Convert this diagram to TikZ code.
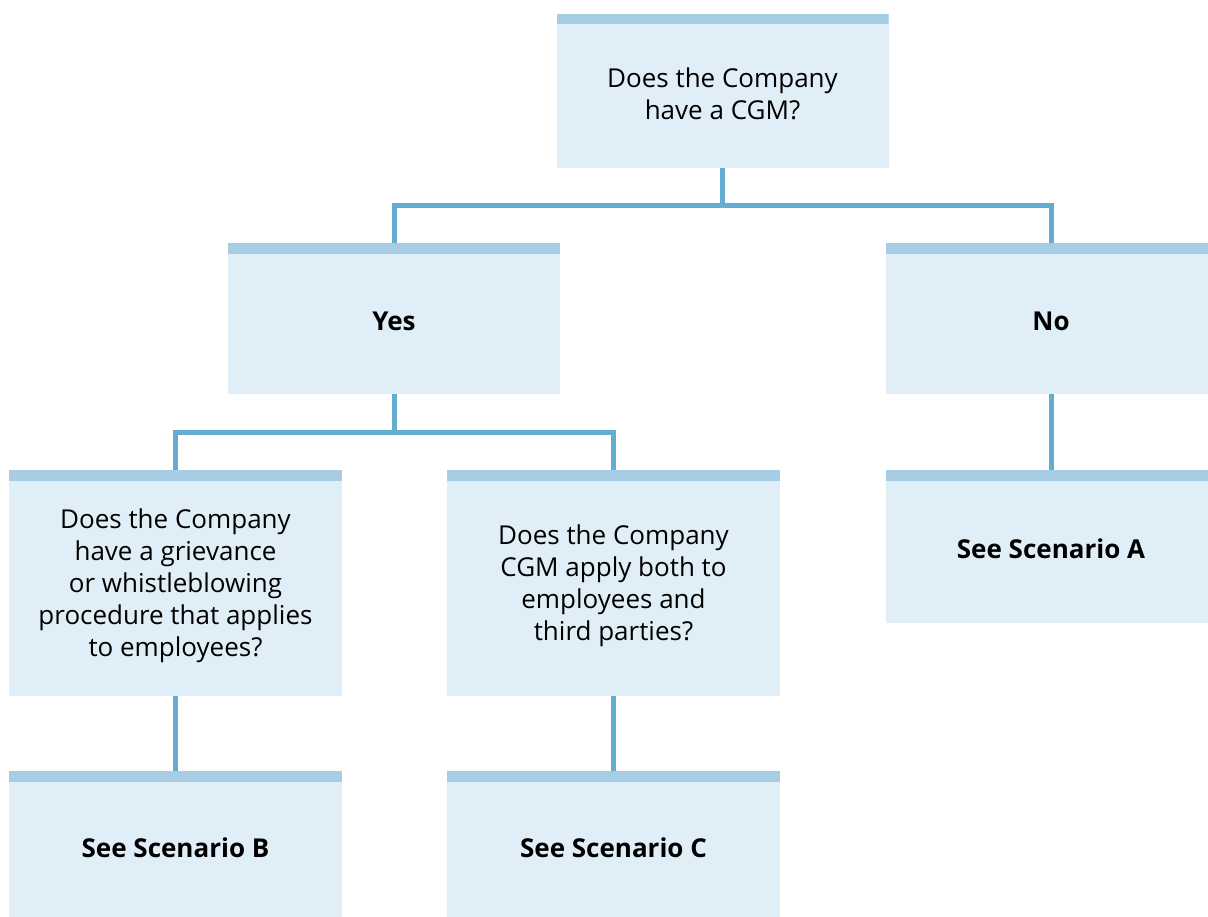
\documentclass[tikz,border=0pt]{standalone}
\usepackage{fontspec}
\setmainfont{Open Sans}
\definecolor{bodyc}{RGB}{224,239,247}
\definecolor{bandc}{RGB}{166,205,227}
\definecolor{linec}{RGB}{100,172,208}
\begin{document}
\begin{tikzpicture}[x=0.75pt,y=-0.75pt,
  box/.style={draw=none, fill=bodyc, inner sep=0pt, minimum width=332*0.75pt,
    path picture={\fill[bandc] (path picture bounding box.north west) rectangle
      ([yshift=-10.5*0.75pt]path picture bounding box.north east);}},
  txt/.style={font=\fontsize{19.5}{24}\selectfont, align=center, text=black, yshift=-1.8pt},
  bold/.style={font=\fontsize{19.5}{24}\selectfont\bfseries, text=black, yshift=-1.8pt},
  conn/.style={draw=linec, line width=5*0.75pt}]
\clip (0,0) rectangle (1208,917);
\fill[white] (0,0) rectangle (1208,917);
% boxes
\node[box, minimum height=154*0.75pt] (top) at (722.5,91)
  {};
\node[box, minimum height=151*0.75pt] (yes) at (394,318.5) {};
\node[box, minimum height=151*0.75pt, minimum width=331*0.75pt] (no) at (1051,318.5) {};
\node[box, minimum height=226*0.75pt, minimum width=333*0.75pt] (gq) at (175.5,583) {};
\node[box, minimum height=226*0.75pt, minimum width=333*0.75pt] (cq) at (613.5,583) {};
\node[box, minimum height=153*0.75pt, minimum width=331*0.75pt] (sa) at (1051,546.5) {};
\node[box, minimum height=148*0.75pt, minimum width=333*0.75pt] (sb) at (175.5,845) {};
\node[box, minimum height=148*0.75pt, minimum width=333*0.75pt] (sc) at (613.5,845) {};
% texts
\node[txt] (ttop) at (top.center) {Does the Company\\have a CGM?};
\node[bold] (tyes) at (yes.center) {Yes};
\node[bold] (tno) at (no.center) {No};
\node[txt] (tgq) at (gq.center) {Does the Company\\have a grievance\\or whistleblowing\\procedure that applies\\to employees?};
\node[txt] (tcq) at (cq.center) {Does the Company\\CGM apply both to\\employees and\\third parties?};
\node[bold] (tsa) at (sa.center) {See Scenario A};
\node[bold] (tsb) at (sb.center) {See Scenario B};
\node[bold] (tsc) at (sc.center) {See Scenario C};
% junctions
\coordinate (j1) at (722.5,205.5);
\coordinate (j2) at (394,432);
% connectors
\draw[conn] (top.south) -- (j1) -| (yes.north);
\draw[conn] (j1) -| (no.north);
\draw[conn] (yes.south) -- (j2) -| (gq.north);
\draw[conn] (j2) -| (cq.north);
\draw[conn] (no.south) -- (sa.north);
\draw[conn] (gq.south) -- (sb.north);
\draw[conn] (cq.south) -- (sc.north);
\end{tikzpicture}
\end{document}
